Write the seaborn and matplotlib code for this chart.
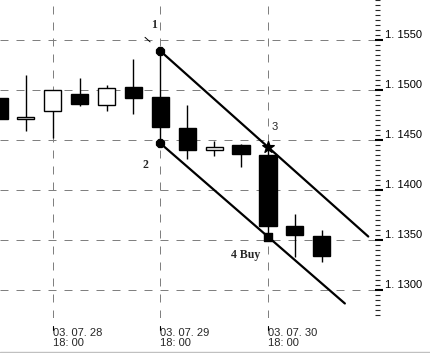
import numpy as np
import pandas as pd
import matplotlib
matplotlib.use("Agg")
import matplotlib.pyplot as plt
import matplotlib.transforms as mtransforms
import seaborn as sns

# 6-hour candles, index 0..12
opens = [1.1492, 1.1471, 1.1479, 1.1496, 1.1485, 1.1503, 1.1493, 1.1462, 1.1440, 1.1445, 1.1435, 1.1364, 1.1354]
highs = [1.1494, 1.1515, 1.1500, 1.1512, 1.1505, 1.1531, 1.1539, 1.1485, 1.1449, 1.1446, 1.1444, 1.1376, 1.1360]
lows = [1.1469, 1.1459, 1.1452, 1.1484, 1.1479, 1.1476, 1.1447, 1.1431, 1.1434, 1.1423, 1.1354, 1.1333, 1.1328]
closes = [1.1471, 1.1473, 1.1500, 1.1486, 1.1502, 1.1492, 1.1463, 1.1440, 1.1443, 1.1436, 1.1364, 1.1355, 1.1334]

tick_pos = [2, 6, 10]
tick_labels = ["03. 07. 28\n18: 00", "03. 07. 29\n18: 00", "03. 07. 30\n18: 00"]

# channel anchor points (candle index, price)
upper_pts = [(6, 1.15393), (10, 1.14433)]
lower_pts = [(6, 1.1447), (10, 1.13536)]

dp = pd.DataFrame({"i": np.arange(len(opens)), "Open": opens, "High": highs,
                   "Low": lows, "Close": closes})

sns.set_style("white")
fig = plt.figure(figsize=(4.3, 3.53), dpi=100, facecolor="white")
ax = fig.add_axes([0, 1 - 318 / 353, 375 / 430, 318 / 353])

# grid
for y in [1.1300, 1.1350, 1.1400, 1.1450, 1.1500, 1.1550]:
    ax.axhline(y, color="#808080", lw=0.72, ls=(0, (8, 8)), zorder=0)
for x in tick_pos:
    ax.axvline(x, color="#808080", lw=0.72, ls=(0, (8, 8)), zorder=0)

# candles
ax.vlines(dp["i"], dp["Low"], dp["High"], color="black", lw=1.0, zorder=2)
up = dp["Close"] >= dp["Open"]
bottom = np.minimum(dp["Open"], dp["Close"])
height = np.maximum(np.abs(dp["Close"] - dp["Open"]), 0.00025)
ax.bar(dp["i"], height, bottom=bottom, width=0.64,
       color=np.where(up, "white", "black"), edgecolor="black", lw=1.0, zorder=3)

# channel lines
def line_through(pts, x0, x1):
    (xa, ya), (xb, yb) = pts
    k = (yb - ya) / (xb - xa)
    xs = np.array([x0, x1])
    return xs, ya + k * (xs - xa)

xs, ys = line_through(upper_pts, 5.43, 5.62)
ax.plot(xs, ys, color="black", lw=0.7, zorder=4)
xs, ys = line_through(upper_pts, 6, 13.73)
sns.lineplot(x=xs, y=ys, color="black", lw=1.6, ax=ax, zorder=4)
xs, ys = line_through(lower_pts, 6, 12.86)
sns.lineplot(x=xs, y=ys, color="black", lw=1.6, ax=ax, zorder=4)

pts = upper_pts + lower_pts
mk = ["8", "*", "8", "s"]
for (px, py), m in zip(pts, mk):
    ax.scatter([px], [py], marker=m, s=38 if m != "*" else 75, color="black", zorder=5)

ax.text(5.77, 1.15653, "1", family="Liberation Serif", weight="bold", fontsize=8.5, ha="center", va="center")
ax.text(5.45, 1.14253, "2", family="Liberation Serif", weight="bold", fontsize=8.5, ha="center", va="center")
ax.text(10.26, 1.14633, "3", family="Liberation Sans", fontsize=8, ha="center", va="center")
ax.text(8.63, 1.13353, "4 Buy", family="Liberation Serif", weight="bold", fontsize=8.5, ha="left", va="center")

ax.set_xlim(0.04, 13.98)
ax.set_ylim(1.12723, 1.15903)

# axes styling
for s in ax.spines.values():
    s.set_visible(False)
ax.yaxis.tick_right()
ax.set_yticks([1.1300, 1.1350, 1.1400, 1.1450, 1.1500, 1.1550])
ax.set_yticklabels(["1. 1300", "1. 1350", "1. 1400", "1. 1450", "1. 1500", "1. 1550"])
ax.set_yticks(np.arange(1.1275, 1.1590, 0.0005), minor=True)
ax.tick_params(axis="y", which="major", direction="out", length=6, width=1.5, pad=1,
               labelsize=8, colors="black")
ax.tick_params(axis="y", which="minor", direction="out", length=3.6, width=0.8)
for lab in ax.get_yticklabels():
    lab.set_family("Liberation Sans")
    lab.set_verticalalignment("bottom")

ax.set_xticks(tick_pos)
ax.set_xticklabels(tick_labels, ha="left", family="Liberation Sans", fontsize=8, linespacing=1.05)
ax.tick_params(axis="x", length=0, pad=7)
trans = mtransforms.blended_transform_factory(ax.transData, ax.transAxes)
for x in tick_pos:
    ax.plot([x, x], [-8 / 318, -12 / 318], color="black", lw=0.8, transform=trans, clip_on=False)

fig.add_artist(plt.Line2D([0, 1], [1.5 / 353, 1.5 / 353], color="#c0c0c0", lw=1.0))

fig.savefig("out.png", dpi=100, facecolor="white")
